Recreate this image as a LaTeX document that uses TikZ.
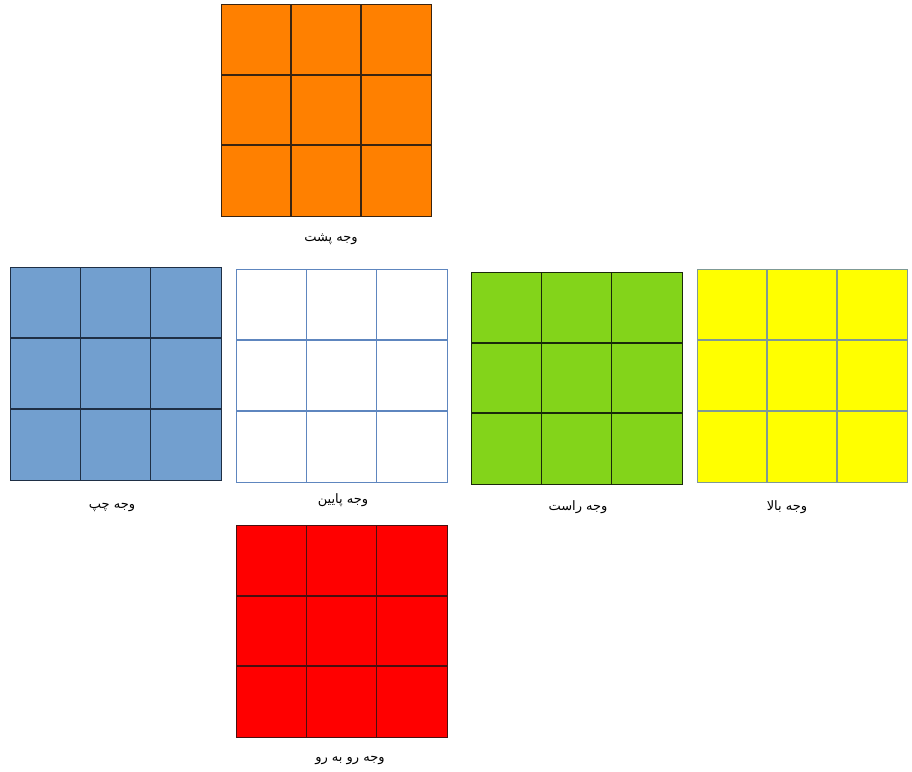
\documentclass[tikz,border=0pt]{standalone}
\usepackage{fontspec}
\newfontfamily\arabicfont[Script=Arabic]{DejaVu Sans}
\TeXXeTstate=1
\definecolor{orangeF}{HTML}{FF8000}
\definecolor{orangeL}{HTML}{3A2410}
\definecolor{blueF}{HTML}{729FCF}
\definecolor{blueL}{HTML}{1F2F45}
\definecolor{whiteL}{HTML}{5E86BF}
\definecolor{greenF}{HTML}{83D41A}
\definecolor{greenL}{HTML}{1A2A0A}
\definecolor{yellowF}{HTML}{FFFF00}
\definecolor{yellowL}{HTML}{7F9A95}
\definecolor{redF}{HTML}{FF0000}
\definecolor{redL}{HTML}{4A1010}
\tikzset{
  lbl/.style={font=\arabicfont\fontsize{13}{15}\selectfont, inner sep=0pt, anchor=center},
  vline/.style={line width=1.2pt},
  hline/.style={line width=1.7pt},
}
\begin{document}
\begin{tikzpicture}[x=1pt,y=-1pt]
\useasboundingbox (0,0) rectangle (912,771);
\fill[white] (0,0) rectangle (912,771);
\foreach \x/\y/\w/\h/\f/\l in {
  221/4/210/212/orangeF/orangeL,
  10/267/211/213/blueF/blueL,
  236/269/211/213/white/whiteL,
  471/272/211/212/greenF/greenL,
  697/269/210/213/yellowF/yellowL,
  236/525/211/212/redF/redL}{
  \fill[\f] (\x,\y) rectangle ++(\w,\h);
  \foreach \i in {1,2}{
    \draw[vline,\l] ({\x+\i*\w/3},\y) -- ++(0,\h);
    \draw[hline,\l] (\x,{\y+\i*\h/3}) -- ++(\w,0);
  }
  \draw[line width=0.9pt,\l] (\x,\y) rectangle ++(\w,\h);
}
\node[lbl] (lback)  at (331,239) {\beginR وجه پشت\endR};
\node[lbl] (lleft)  at (112,507) {\beginR وجه چپ\endR};
\node[lbl] (ldown)  at (343,500) {\beginR وجه پایین\endR};
\node[lbl] (lright) at (578,507) {\beginR وجه راست\endR};
\node[lbl] (lup)    at (787,507) {\beginR وجه بالا\endR};
\node[lbl] (lfront) at (350,760) {\beginR وجه رو به رو\endR};
\end{tikzpicture}
\end{document}
